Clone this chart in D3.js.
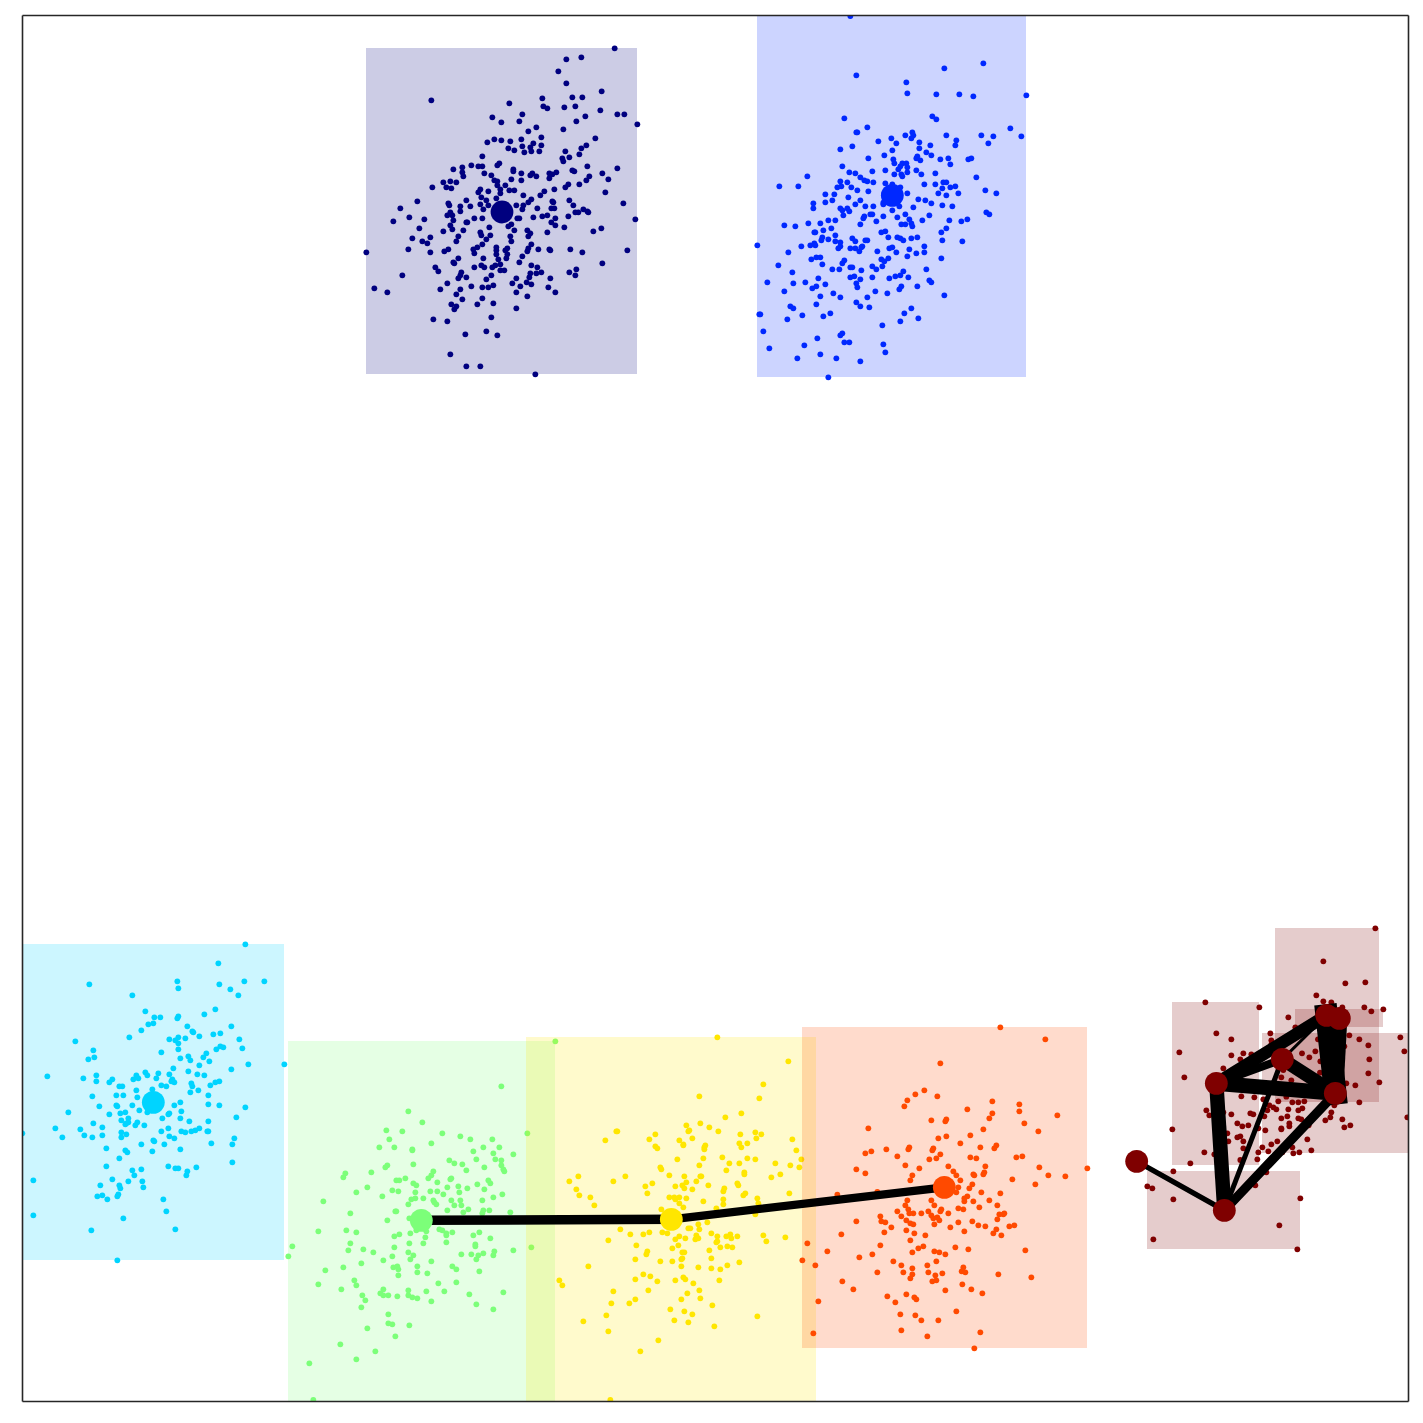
<!DOCTYPE html>
<html><head><meta charset="utf-8">
<script src="https://cdn.jsdelivr.net/npm/d3@7/dist/d3.min.js"></script>
<style>html,body{margin:0;padding:0;background:#fff}svg{display:block}</style>
</head><body>
<svg id="chart" width="1423" height="1423"></svg>
<script>
// Feature-space readings, in units of a third of a picture pixel. Each list is relative to its cluster's base reading.
const navyBase=[1080,120];
const navyPts=[[764,25],[619,58],[664,52],[595,94],[619,130],[725,154],[214,181],[547,175],[637,172],[667,172],[448,190],[550,199],[562,205],[613,202],[646,199],[721,211],[772,223],[793,223],[832,253],[397,232],[487,223],[424,247],[478,244],[649,244],[676,229],[529,262],[505,274],[610,268],[544,292],[484,298],[424,301],[403,298],[382,307],[451,304],[706,295],[520,310],[544,316],[487,319],[511,322],[445,325],[463,331],[493,337],[514,334],[538,334],[679,316],[664,325],[616,334],[658,343],[628,352],[607,355],[610,364],[367,349],[418,370],[412,376],[334,376],[307,382],[355,379],[367,379],[280,388],[307,397],[310,409],[460,388],[460,394],[484,400],[373,400],[394,406],[517,400],[511,406],[529,409],[568,400],[577,403],[589,397],[568,415],[637,391],[643,394],[682,379],[772,385],[727,400],[688,409],[679,421],[745,418],[403,421],[412,424],[454,418],[484,421],[250,427],[271,424],[289,427],[259,442],[274,445],[217,442],[412,436],[436,436],[361,448],[355,457],[385,454],[421,448],[421,460],[448,451],[463,451],[625,433],[616,442],[583,448],[658,433],[553,454],[541,466],[490,466],[736,457],[364,472],[379,481],[409,475],[319,481],[172,484],[265,490],[268,496],[301,499],[361,493],[385,496],[331,499],[514,478],[505,487],[490,496],[469,496],[487,508],[532,505],[577,484],[580,487],[574,505],[583,505],[628,481],[640,496],[670,508],[646,517],[655,517],[682,514],[685,517],[790,490],[121,505],[301,514],[370,508],[271,517],[262,526],[277,526],[343,535],[367,535],[148,532],[193,538],[100,544],[280,541],[319,547],[322,547],[472,535],[478,535],[520,532],[547,529],[562,526],[586,535],[625,529],[574,547],[586,556],[613,562],[826,538],[271,556],[178,565],[277,568],[250,574],[310,571],[388,562],[445,559],[454,553],[463,571],[502,571],[511,580],[505,589],[562,577],[700,574],[724,565],[361,577],[364,586],[391,586],[295,589],[157,595],[211,592],[187,604],[202,610],[289,604],[379,598],[451,589],[454,604],[367,613],[352,622],[514,613],[505,625],[502,634],[19,637],[145,628],[211,637],[253,634],[265,628],[340,628],[343,640],[409,622],[409,631],[436,631],[442,625],[535,628],[568,628],[571,631],[631,628],[667,637],[802,631],[409,643],[442,643],[439,655],[487,649],[295,655],[370,655],[415,658],[280,667],[283,670],[478,667],[421,673],[727,670],[226,682],[235,694],[343,682],[364,676],[373,682],[397,682],[406,676],[421,691],[433,691],[514,676],[532,682],[649,688],[628,697],[646,706],[127,706],[304,697],[301,706],[295,715],[319,712],[394,706],[379,718],[511,700],[508,712],[529,700],[544,697],[571,715],[469,715],[262,730],[457,730],[500,727],[514,733],[481,739],[43,745],[82,757],[241,748],[301,748],[334,739],[367,742],[385,742],[400,736],[565,742],[586,757],[469,757],[502,769],[289,763],[307,778],[367,775],[274,793],[289,799],[283,808],[352,793],[400,790],[469,805],[220,838],[262,844],[394,832],[316,883],[379,874],[412,886],[271,943],[319,979],[361,979],[526,1003]];
const blueBase=[2250,30];
const bluePts=[[301,18],[700,160],[583,175],[319,196],[469,217],[472,250],[559,253],[628,253],[670,259],[829,256],[547,319],[559,328],[283,325],[352,352],[319,367],[322,367],[781,355],[487,367],[466,376],[490,376],[484,385],[589,376],[694,376],[730,379],[814,379],[424,385],[385,394],[439,400],[508,397],[619,391],[715,400],[616,406],[541,406],[271,418],[307,409],[508,415],[427,421],[529,427],[544,436],[403,436],[355,445],[430,448],[433,460],[499,445],[502,439],[511,451],[571,448],[595,445],[601,463],[655,448],[664,445],[277,469],[451,469],[457,460],[469,460],[472,472],[445,478],[367,484],[406,481],[472,487],[499,481],[298,487],[316,490],[433,493],[454,493],[457,499],[514,493],[556,490],[172,499],[679,502],[331,502],[343,511],[352,514],[88,529],[145,529],[271,514],[292,517],[370,517],[406,520],[523,523],[556,523],[580,517],[589,517],[616,529],[274,529],[262,532],[304,532],[322,541],[355,544],[601,532],[577,535],[706,541],[226,553],[253,553],[295,562],[472,550],[565,550],[589,556],[625,550],[739,550],[247,571],[226,577],[331,571],[505,568],[526,571],[544,580],[190,580],[190,595],[316,583],[346,589],[370,589],[400,583],[490,592],[577,586],[607,589],[271,595],[277,601],[292,595],[298,604],[280,616],[427,601],[709,607],[718,613],[361,613],[367,613],[343,619],[340,625],[400,619],[442,622],[466,613],[538,616],[235,631],[256,631],[379,634],[478,628],[484,640],[517,631],[598,631],[634,634],[652,628],[175,640],[211,640],[331,643],[454,643],[466,643],[487,649],[103,646],[136,649],[244,655],[220,661],[589,655],[193,667],[196,667],[394,667],[406,664],[574,667],[256,676],[217,682],[214,691],[235,688],[307,685],[316,694],[352,691],[346,691],[415,682],[442,682],[451,685],[460,691],[484,685],[502,682],[577,691],[637,694],[256,694],[271,697],[181,706],[193,700],[196,706],[154,709],[22,706],[271,709],[265,715],[301,715],[316,715],[328,724],[337,709],[334,712],[382,724],[418,715],[427,712],[439,727],[478,718],[499,730],[523,709],[523,727],[115,727],[472,739],[574,745],[184,748],[199,742],[211,742],[283,751],[277,760],[394,748],[415,745],[403,754],[217,763],[85,766],[247,778],[268,778],[301,772],[307,772],[334,781],[367,769],[379,778],[397,769],[529,778],[127,787],[301,802],[313,799],[331,808],[367,802],[418,805],[436,799],[451,796],[460,784],[475,802],[205,805],[52,817],[130,820],[166,817],[226,823],[319,820],[322,832],[187,835],[199,829],[538,811],[544,817],[454,829],[448,838],[502,829],[103,844],[250,850],[376,844],[412,850],[211,859],[271,862],[352,862],[583,856],[199,883],[319,877],[331,889],[358,892],[121,889],[130,895],[484,895],[28,913],[31,913],[157,916],[220,919],[241,910],[463,910],[112,928],[505,925],[451,934],[397,946],[40,964],[271,976],[277,970],[202,985],[283,997],[298,997],[163,1006],[400,1003],[58,1015],[406,1027],[211,1033],[142,1045],[259,1045],[331,1054],[235,1102],[400,578],[448,589],[427,523],[451,532],[403,550]];
const cyanBase=[45,2805];
const cyanPts=[[691,28],[610,85],[487,139],[490,160],[613,148],[688,139],[748,139],[223,148],[646,163],[670,181],[352,181],[391,229],[601,223],[568,238],[490,244],[487,250],[418,247],[436,247],[400,268],[415,265],[517,274],[649,274],[379,286],[532,289],[535,292],[595,298],[616,295],[553,304],[343,307],[490,307],[463,313],[481,316],[490,325],[511,310],[673,313],[181,319],[682,340],[604,343],[616,334],[625,337],[235,346],[490,343],[439,352],[574,355],[565,367],[238,367],[220,373],[520,364],[496,370],[526,376],[583,379],[700,388],[808,388],[553,391],[475,400],[649,403],[520,409],[391,412],[397,421],[430,415],[463,418],[547,418],[568,421],[97,424],[244,421],[205,430],[292,433],[283,442],[364,421],[355,433],[370,430],[424,430],[472,433],[469,439],[478,442],[244,439],[613,439],[601,442],[586,451],[529,445],[532,454],[439,451],[454,454],[313,454],[322,454],[364,466],[412,463],[526,472],[550,466],[304,481],[325,481],[232,484],[367,487],[580,481],[496,502],[580,508],[613,511],[304,511],[307,514],[352,511],[478,511],[253,514],[691,517],[373,526],[397,532],[499,529],[160,532],[316,535],[331,532],[283,538],[463,535],[460,538],[442,550],[496,550],[664,547],[319,556],[340,550],[334,565],[340,562],[331,568],[367,562],[361,571],[388,571],[235,565],[523,559],[580,559],[262,577],[121,580],[196,583],[460,580],[553,580],[541,586],[529,589],[499,589],[511,592],[577,589],[580,589],[439,589],[319,592],[334,598],[319,607],[262,601],[208,601],[232,607],[142,607],[22,595],[463,604],[478,610],[658,610],[415,616],[418,619],[379,628],[448,628],[589,625],[652,628],[274,640],[331,646],[337,652],[412,649],[496,643],[313,670],[652,682],[274,694],[460,694],[481,700],[490,700],[544,697],[352,706],[379,703],[517,709],[514,721],[358,721],[292,733],[340,739],[382,739],[55,736],[256,751],[313,751],[316,760],[385,757],[310,778],[307,784],[262,781],[247,784],[277,793],[445,793],[454,829],[55,841],[325,850],[229,886],[481,883],[307,976]];
const greenBase=[840,3090];
const greenPts=[[826,34],[664,169],[385,244],[427,277],[319,301],[367,304],[487,310],[541,319],[571,328],[637,328],[742,310],[328,328],[454,340],[298,352],[343,352],[397,358],[397,361],[610,352],[658,352],[580,364],[640,370],[700,373],[589,388],[646,388],[664,391],[508,391],[523,400],[547,403],[400,403],[664,406],[670,418],[673,424],[613,412],[559,421],[322,406],[316,412],[274,427],[196,430],[190,442],[460,424],[454,436],[445,445],[376,445],[349,451],[358,451],[514,445],[511,448],[625,451],[631,460],[472,457],[400,460],[409,466],[592,463],[535,469],[262,472],[502,472],[562,475],[613,478],[337,481],[355,484],[406,487],[451,484],[472,484],[229,487],[538,487],[490,493],[667,493],[307,499],[640,502],[394,508],[406,505],[430,505],[460,511],[463,517],[514,511],[541,511],[607,511],[130,514],[385,523],[469,523],[523,526],[544,526],[565,538],[502,541],[610,541],[628,541],[346,544],[349,544],[550,547],[607,550],[691,547],[211,550],[388,565],[322,571],[115,604],[199,601],[229,607],[478,598],[487,601],[517,607],[598,607],[391,610],[358,613],[343,619],[499,610],[499,616],[580,616],[436,622],[631,625],[388,640],[430,640],[499,637],[211,640],[586,643],[586,649],[343,652],[754,652],[37,649],[205,661],[250,658],[280,667],[385,667],[643,664],[610,670],[700,661],[544,673],[574,673],[595,676],[640,676],[400,676],[25,679],[337,679],[589,688],[310,691],[391,688],[454,694],[244,700],[412,709],[190,712],[340,712],[352,709],[355,718],[517,709],[529,718],[136,721],[598,724],[412,727],[442,730],[355,736],[223,751],[529,757],[115,763],[229,766],[475,760],[184,778],[310,778],[385,781],[439,784],[493,784],[670,787],[301,790],[310,796],[325,796],[352,799],[385,796],[397,802],[412,805],[247,796],[256,811],[568,793],[454,814],[589,823],[244,832],[640,838],[325,853],[325,880],[337,883],[388,886],[262,895],[346,919],[181,943],[286,964],[229,988],[88,1000],[100,1110],[439,604],[409,601]];
const yellowBase=[1560,3090];
const yellowPts=[[592,22],[805,94],[730,163],[538,199],[718,205],[664,250],[616,262],[499,286],[541,280],[568,292],[508,301],[505,304],[595,304],[289,304],[292,304],[406,313],[661,313],[706,307],[724,313],[256,331],[388,328],[478,331],[517,325],[709,325],[817,328],[490,343],[490,346],[556,346],[553,352],[553,358],[406,349],[412,355],[658,340],[682,340],[664,352],[829,361],[472,388],[550,385],[607,382],[682,385],[706,388],[844,388],[628,400],[658,400],[766,400],[811,406],[838,412],[538,406],[421,412],[424,418],[619,421],[673,427],[673,433],[448,436],[493,439],[541,439],[544,439],[316,439],[175,439],[754,442],[781,433],[148,454],[280,454],[499,457],[529,454],[397,460],[652,460],[655,466],[376,469],[466,469],[487,466],[493,475],[565,466],[169,478],[517,478],[613,475],[610,484],[382,490],[178,496],[676,490],[670,496],[808,490],[211,502],[448,502],[463,502],[478,502],[466,508],[499,505],[610,508],[712,505],[550,514],[223,526],[478,520],[610,523],[715,520],[490,532],[589,535],[424,538],[706,553],[301,598],[331,613],[370,613],[388,607],[427,607],[442,610],[535,583],[562,577],[538,598],[505,595],[511,595],[574,610],[265,631],[478,619],[466,628],[496,625],[529,616],[526,628],[535,625],[592,619],[619,619],[631,613],[634,625],[652,619],[730,616],[796,622],[739,634],[589,637],[592,634],[349,646],[475,646],[457,655],[601,652],[622,649],[637,652],[382,664],[379,673],[487,667],[493,667],[568,661],[346,688],[421,694],[457,694],[487,685],[484,688],[574,685],[658,697],[205,709],[484,709],[535,712],[574,715],[601,718],[622,706],[370,733],[391,739],[346,748],[412,754],[466,751],[490,742],[496,748],[598,751],[118,751],[127,766],[520,760],[280,784],[385,781],[538,781],[502,790],[541,805],[346,808],[484,808],[274,820],[328,820],[577,826],[451,838],[493,844],[259,856],[517,853],[712,859],[190,874],[463,871],[505,877],[583,889],[265,904],[415,931],[361,964],[271,1110]];
const orangeBase=[2385,3060];
const orangePts=[[616,22],[751,58],[436,130],[388,211],[361,223],[337,241],[427,229],[328,259],[592,244],[673,253],[517,268],[673,274],[592,280],[787,286],[583,295],[454,298],[451,304],[409,301],[688,310],[220,325],[565,328],[730,334],[526,346],[454,349],[430,355],[496,370],[604,376],[598,385],[343,382],[340,388],[274,388],[415,385],[412,391],[556,382],[229,394],[211,400],[436,403],[307,409],[424,415],[403,418],[526,412],[544,415],[664,412],[682,409],[331,436],[460,439],[571,439],[733,442],[373,445],[184,448],[475,454],[568,457],[565,463],[535,463],[538,466],[211,460],[352,466],[484,466],[760,466],[811,469],[877,445],[346,481],[496,481],[652,478],[532,493],[721,493],[523,505],[490,502],[484,517],[559,517],[616,520],[127,524],[247,516],[517,529],[508,535],[508,544],[337,541],[409,541],[535,544],[583,541],[607,556],[331,556],[418,556],[553,562],[490,565],[505,568],[460,580],[340,568],[343,580],[355,580],[307,574],[379,580],[400,574],[439,568],[436,574],[319,589],[409,586],[415,595],[427,592],[433,601],[256,589],[613,583],[628,580],[625,583],[607,598],[184,604],[259,604],[271,607],[334,601],[346,610],[355,613],[490,607],[532,604],[418,613],[550,616],[571,619],[643,619],[658,616],[289,622],[466,622],[604,628],[334,631],[268,637],[358,640],[508,634],[595,640],[619,646],[139,643],[391,646],[346,661],[256,676],[385,679],[370,685],[481,682],[520,688],[691,691],[97,694],[352,697],[418,694],[433,697],[451,703],[232,703],[193,712],[295,724],[424,724],[319,736],[397,736],[352,745],[505,742],[500,754],[511,757],[247,757],[325,757],[400,757],[442,760],[352,763],[346,775],[421,766],[610,763],[709,772],[142,784],[412,784],[424,781],[502,793],[175,808],[451,811],[529,808],[562,820],[334,823],[277,829],[358,832],[364,838],[301,847],[316,883],[361,886],[379,901],[430,901],[484,874],[319,931],[397,949],[556,937],[538,985],[37,670],[22,721],[61,736],[70,844],[55,940]];
const redBase=[3390,2760];
const redPts=[[736,25],[580,124],[646,190],[706,187],[559,226],[580,244],[604,247],[637,262],[703,262],[724,274],[760,268],[226,247],[388,262],[475,292],[496,322],[421,340],[424,361],[259,340],[304,358],[658,346],[688,358],[811,352],[715,376],[643,379],[823,394],[148,397],[304,406],[340,400],[364,403],[331,418],[718,418],[538,412],[556,394],[516,400],[571,424],[280,445],[163,472],[715,460],[748,487],[649,490],[676,496],[454,472],[484,481],[570,458],[334,529],[373,532],[688,547],[445,544],[487,547],[505,547],[523,544],[400,538],[469,530],[418,556],[430,562],[439,568],[412,571],[475,568],[505,571],[517,565],[229,571],[238,586],[280,577],[304,583],[361,580],[370,583],[403,589],[472,589],[454,595],[505,595],[514,598],[604,577],[601,592],[586,601],[637,598],[613,556],[832,592],[322,610],[337,619],[355,616],[385,625],[406,631],[454,625],[454,628],[478,610],[478,619],[536,616],[643,622],[661,616],[127,628],[292,640],[322,652],[331,649],[295,664],[340,664],[442,664],[532,658],[424,673],[397,682],[340,685],[487,682],[223,697],[253,703],[385,697],[415,694],[457,697],[490,700],[508,697],[544,691],[181,730],[382,718],[331,720],[130,754],[409,757],[376,796],[52,799],[67,805],[130,838],[511,835],[448,916],[70,958],[502,988],[564,358],[424,373],[460,450]];

// Cluster extents [x0,x1,y0,y1] and exemplars, same units
const navyBox=[[1098,1911,144,1122]];
const blueBox=[[2271,3078,30,1131]];
const cyanBox=[[30,852,2832,3780]];
const greenBox=[[864,1665,3123,4240]];
const yellowBox=[[1578,2448,3111,4240]];
const orangeBox=[[2406,3261,3081,4044]];
const redBox=[[3825,4137,2784,3306],[3516,3777,3006,3495],[3786,4240,3099,3459],[3885,4149,3027,3081],[3441,3900,3513,3747]];
const navyHub=[[1506,636]];
const blueHub=[[2677,586]];
const cyanHub=[[460,3307]];
const greenHub=[[1264,3661]];
const yellowHub=[[2014,3658]];
const orangeHub=[[2833,3562]];
const redHub=[[3410,3484],[3673,3631],[3649,3250],[3847,3178],[4006,3280],[3980,3046],[4018,3055]];

const greenYellowEdge=[[1264,3661,2014,3658,0.38]];
const yellowOrangeEdge=[[2014,3658,2833,3562,0.33]];
const redEdges=[[0,1,0.21],[1,2,0.58],[1,3,0.2],[1,4,0.37],[2,5,0.5],[2,3,0.32],[2,4,0.6],[3,4,0.54],[3,5,0.12],[5,4,0.9],[6,4,0.64]];

const clusters=[
 {color:"#00007f",pts:navyPts,base:navyBase,box:navyBox,hub:navyHub},
 {color:"#0028ff",pts:bluePts,base:blueBase,box:blueBox,hub:blueHub},
 {color:"#00d4ff",pts:cyanPts,base:cyanBase,box:cyanBox,hub:cyanHub},
 {color:"#7cff79",pts:greenPts,base:greenBase,box:greenBox,hub:greenHub},
 {color:"#ffe600",pts:yellowPts,base:yellowBase,box:yellowBox,hub:yellowHub},
 {color:"#ff4a00",pts:orangePts,base:orangeBase,box:orangeBox,hub:orangeHub},
 {color:"#7f0000",pts:redPts,base:redBase,box:redBox,hub:redHub}
];

const left=22,right=1408,top_=15,bottom=1401;
const x=d3.scaleLinear().domain([66,4224]).range([left,right]);
const y=d3.scaleLinear().domain([45,4203]).range([top_,bottom]);
const w=d3.scaleLinear().domain([0,1]).range([0,25]);

const svg=d3.select("#chart");
svg.append("defs").append("clipPath").attr("id","plot").append("rect")
  .attr("x",left).attr("y",top_).attr("width",right-left).attr("height",bottom-top_);
const plot=svg.append("g").attr("clip-path","url(#plot)");

clusters.forEach(c=>{
  plot.append("g").selectAll("rect").data(c.box).join("rect")
    .attr("x",d=>x(d[0])).attr("width",d=>x(d[1])-x(d[0]))
    .attr("y",d=>y(d[2])).attr("height",d=>y(d[3])-y(d[2]))
    .attr("fill",c.color).attr("fill-opacity",0.2);
  plot.append("g").selectAll("circle").data(c.pts).join("circle")
    .attr("cx",d=>x(d[0]+c.base[0])).attr("cy",d=>y(d[1]+c.base[1]))
    .attr("r",2.9).attr("fill",c.color);
});

const segs=[...greenYellowEdge,...yellowOrangeEdge,
  ...redEdges.map(e=>[redHub[e[0]][0],redHub[e[0]][1],redHub[e[1]][0],redHub[e[1]][1],e[2]])];
plot.append("g").selectAll("line").data(segs).join("line")
  .attr("x1",d=>x(d[0])).attr("y1",d=>y(d[1])).attr("x2",d=>x(d[2])).attr("y2",d=>y(d[3]))
  .attr("stroke","#000").attr("stroke-width",d=>w(d[4])).attr("stroke-linecap","square");

clusters.forEach(c=>{
  plot.append("g").selectAll("circle").data(c.hub).join("circle")
    .attr("cx",d=>x(d[0])).attr("cy",d=>y(d[1])).attr("r",11.4).attr("fill",c.color);
});

const axes=[[d3.axisBottom(x),0,bottom],[d3.axisTop(x),0,top_],[d3.axisLeft(y),left,0],[d3.axisRight(y),right,0]];
axes.forEach(([a,tx,ty])=>{
  const g=svg.append("g").attr("transform",`translate(${tx},${ty})`).call(a.tickValues([]).tickSize(0).tickSizeOuter(0));
  g.select(".domain").attr("stroke","#262626").attr("stroke-width",1.6);
});
</script>
</body></html>
